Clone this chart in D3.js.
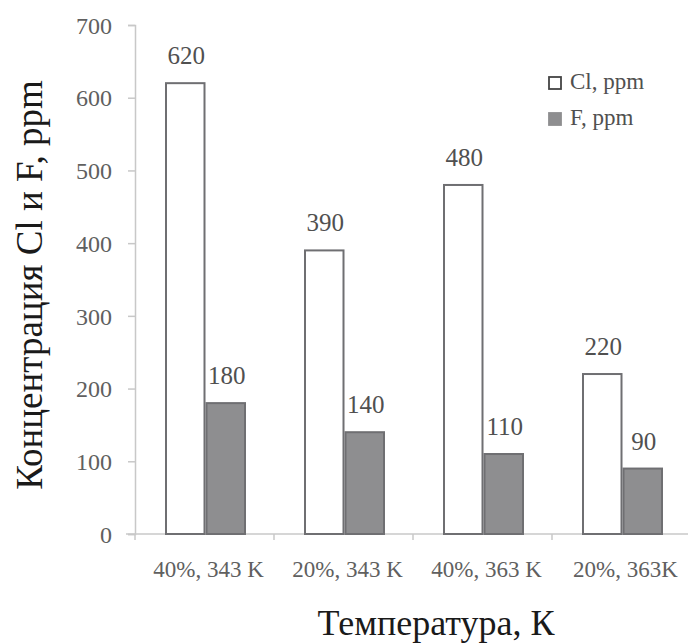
<!DOCTYPE html>
<html>
<head>
<meta charset="utf-8">
<script src="https://cdn.jsdelivr.net/npm/d3@7"></script>
<style>
  html, body { margin: 0; padding: 0; background: #fff; }
  svg { display: block; }
  svg text { font-family: "Liberation Serif", "Times New Roman", serif; }
</style>
</head>
<body>
<svg id="chart" width="688" height="643"></svg>
<script>
// Chlorine and fluorine content for each test condition
const categories = ["40%, 343 K", "20%, 343 K", "40%, 363 K", "20%, 363K"];
const clValues = [620, 390, 480, 220];
const fValues = [180, 140, 110, 90];
const seriesNames = ["Cl, ppm", "F, ppm"];
const yTicks = [0, 100, 200, 300, 400, 500, 600, 700];

const svg = d3.select("#chart");
const margin = { left: 135, top: 25 };
const plotBottom = 534;

const x = d3.scaleBand()
  .domain(categories)
  .range([margin.left, 691]);

const inner = d3.scaleBand()
  .domain(seriesNames)
  .range([0, 81]);

const y = d3.scaleLinear()
  .domain([0, 700])
  .range([plotBottom, margin.top]);

const axisColor = "#c8c8c8";
const tickText = "#606060";
const valueText = "#505050";
const serif = "'Liberation Serif', 'Times New Roman', serif";

// Y axis
const yAxis = svg.append("g")
  .attr("transform", `translate(${margin.left},0)`)
  .call(d3.axisLeft(y).tickValues(yTicks).tickSize(7).tickPadding(16).tickFormat(d3.format("d")));
yAxis.attr("font-family", serif).attr("font-size", 24);
yAxis.select(".domain").attr("stroke", axisColor).attr("stroke-width", 1.5);
yAxis.selectAll(".tick line").attr("stroke", axisColor).attr("stroke-width", 1.5);
yAxis.selectAll(".tick text").attr("fill", tickText).attr("dy", "0.34em");

// X axis baseline with category boundary ticks
svg.append("line")
  .attr("x1", 126).attr("x2", 688)
  .attr("y1", plotBottom).attr("y2", plotBottom)
  .attr("stroke", axisColor).attr("stroke-width", 1.5);
const bounds = categories.map(c => x(c)).concat([x.range()[1]]);
svg.selectAll(".xtick").data(bounds).enter().append("line")
  .attr("x1", d => d).attr("x2", d => d)
  .attr("y1", plotBottom).attr("y2", plotBottom + 6)
  .attr("stroke", axisColor).attr("stroke-width", 1.5);

svg.selectAll(".xlabel").data(categories).enter().append("text")
  .attr("x", d => x(d) + x.bandwidth() / 2 + 4)
  .attr("y", 577)
  .attr("text-anchor", "middle")
  .attr("font-size", 23)
  .attr("fill", tickText)
  .text(d => d);

// Bars
const rows = categories.map((c, i) => ({ c, values: [clValues[i], fValues[i]] }));
const groupOffset = (x.bandwidth() - 81) / 2 + 1;
const fills = ["#ffffff", "#8e8e90"];

const groups = svg.selectAll(".grp").data(rows).enter().append("g")
  .attr("transform", d => `translate(${x(d.c) + groupOffset},0)`);

groups.selectAll("rect")
  .data(d => d.values.map((v, k) => ({ v, k })))
  .enter().append("rect")
  .attr("x", d => inner(seriesNames[d.k]) + 1)
  .attr("y", d => y(d.v))
  .attr("width", inner.bandwidth() - 2)
  .attr("height", d => plotBottom - y(d.v))
  .attr("fill", d => fills[d.k])
  .attr("stroke", "#6f6f72")
  .attr("stroke-width", 2);

groups.selectAll(".val")
  .data(d => d.values.map((v, k) => ({ v, k })))
  .enter().append("text")
  .attr("x", d => inner(seriesNames[d.k]) + inner.bandwidth() / 2 + 1)
  .attr("y", d => y(d.v) - 19)
  .attr("text-anchor", "middle")
  .attr("font-size", 25)
  .attr("fill", valueText)
  .text(d => d.v);

// Legend
const legend = svg.append("g").attr("transform", "translate(549,77)");
seriesNames.forEach((name, k) => {
  const g = legend.append("g").attr("transform", `translate(0,${k * 36})`);
  g.append("rect")
    .attr("x", 0).attr("y", 0).attr("width", 12).attr("height", 12)
    .attr("fill", fills[k])
    .attr("stroke", k === 0 ? "#444" : "#8e8e90")
    .attr("stroke-width", 1.8);
  g.append("text")
    .attr("x", 21).attr("y", 12)
    .attr("font-size", 23)
    .attr("fill", valueText)
    .text(name);
});

// Axis titles
svg.append("text")
  .attr("transform", `translate(42,285) rotate(-90)`)
  .attr("text-anchor", "middle")
  .attr("font-size", 37)
  .attr("fill", "#1a1a1a")
  .text("Концентрация Cl и F, ppm");

svg.append("text")
  .attr("x", 436).attr("y", 635)
  .attr("text-anchor", "middle")
  .attr("font-size", 36)
  .attr("fill", "#1a1a1a")
  .text("Температура, К");
</script>
</body>
</html>
